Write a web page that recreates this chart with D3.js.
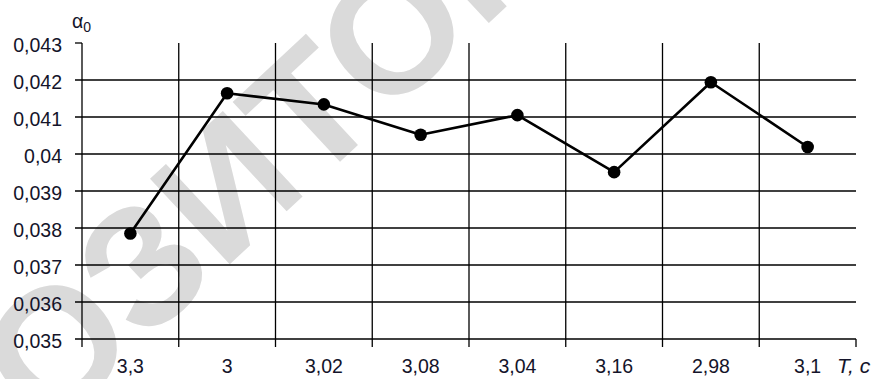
<!DOCTYPE html>
<html>
<head>
<meta charset="utf-8">
<script src="https://cdn.jsdelivr.net/npm/d3@7/dist/d3.min.js"></script>
<style>
  html, body { margin: 0; padding: 0; background: #fff; }
  svg { display: block; }
</style>
</head>
<body>
<svg id="chart" width="874" height="379"></svg>
<script>
// Period T, s (category axis, in the order measured)
const categories = ["3,3", "3", "3,02", "3,08", "3,04", "3,16", "2,98", "3,1"];
// Coefficient α0 for each period
const alpha0 = [0.03785, 0.04164, 0.04134, 0.04052, 0.04105, 0.03951, 0.04194, 0.04019];
// Value-axis ticks and their labels
const yTicks = [0.035, 0.036, 0.037, 0.038, 0.039, 0.040, 0.041, 0.042, 0.043];
const yTickLabels = ["0,035", "0,036", "0,037", "0,038", "0,039", "0,04", "0,041", "0,042", "0,043"];

(function draw() {
  const svg = d3.select("#chart");
  const m = { left: 82, right: 856, top: 43, bottom: 339 };
  const font = "'Liberation Sans', Arial, sans-serif";
  const ink = "#000";
  const textInk = "#14142a";

  const x = d3.scaleBand().domain(categories).range([m.left, m.right]);
  const y = d3.scaleLinear().domain([0.035, 0.043]).range([m.bottom, m.top]);

  // Background watermark, centred between its two "О" letters
  const wmSize = 170;
  const wm = svg.append("g").attr("transform", "translate(222,188) rotate(-43)");
  const wmText = wm.append("text")
    .attr("font-family", font)
    .attr("font-weight", "bold")
    .attr("font-size", wmSize)
    .attr("fill", "#dadada")
    .text("РЕПОЗИТОРИЙ БНТУ");
  const e1 = wmText.node().getExtentOfChar(3);
  const e2 = wmText.node().getExtentOfChar(7);
  const mid = ((e1.x + e1.width / 2) + (e2.x + e2.width / 2)) / 2;
  wmText.attr("x", -mid).attr("y", 0.36 * wmSize);

  // Horizontal grid lines and value-axis ticks
  const grid = svg.append("g").attr("stroke", ink).attr("stroke-width", 1.3);
  grid.selectAll("line.h").data(yTicks).join("line")
    .attr("class", "h")
    .attr("x1", m.left - 7)
    .attr("x2", d => d === 0.043 ? m.left : m.right)
    .attr("y1", d => y(d)).attr("y2", d => y(d));

  // Vertical lines at category boundaries (with ticks below the base line)
  const bounds = categories.map(c => x(c));
  grid.selectAll("line.v").data(bounds).join("line")
    .attr("class", "v")
    .attr("x1", d => d).attr("x2", d => d)
    .attr("y1", m.top).attr("y2", m.bottom + 8);
  grid.append("line")
    .attr("x1", m.right).attr("x2", m.right)
    .attr("y1", m.bottom).attr("y2", m.bottom + 8);

  // Value-axis labels
  svg.append("g").selectAll("text").data(yTicks).join("text")
    .attr("x", 62).attr("y", d => y(d) + 2)
    .attr("dy", "0.35em")
    .attr("text-anchor", "end")
    .attr("font-family", font).attr("font-size", 19.5)
    .attr("fill", textInk)
    .text((d, i) => yTickLabels[i]);

  // Category labels
  svg.append("g").selectAll("text").data(categories).join("text")
    .attr("x", d => x(d) + x.bandwidth() / 2)
    .attr("y", 373)
    .attr("text-anchor", "middle")
    .attr("font-family", font).attr("font-size", 19.5)
    .attr("fill", textInk)
    .text(d => d);

  // Axis titles
  const yTitle = svg.append("text")
    .attr("x", 72).attr("y", 28)
    .attr("font-family", font).attr("font-size", 19.5)
    .attr("fill", textInk);
  yTitle.append("tspan").text("α");
  yTitle.append("tspan").attr("dy", 4).attr("font-size", 14).text("0");

  svg.append("text")
    .attr("x", 837).attr("y", 373)
    .attr("font-family", font).attr("font-size", 21)
    .attr("font-style", "italic")
    .attr("fill", textInk)
    .text("Т, с");

  // Data line and markers
  const pts = categories.map((c, i) => [x(c) + x.bandwidth() / 2, y(alpha0[i])]);
  svg.append("path")
    .attr("d", d3.line()(pts))
    .attr("fill", "none")
    .attr("stroke", ink)
    .attr("stroke-width", 2.6)
    .attr("stroke-linejoin", "round");
  svg.append("g").selectAll("circle").data(pts).join("circle")
    .attr("cx", d => d[0]).attr("cy", d => d[1])
    .attr("r", 6.3)
    .attr("fill", ink);
})();
</script>
</body>
</html>
